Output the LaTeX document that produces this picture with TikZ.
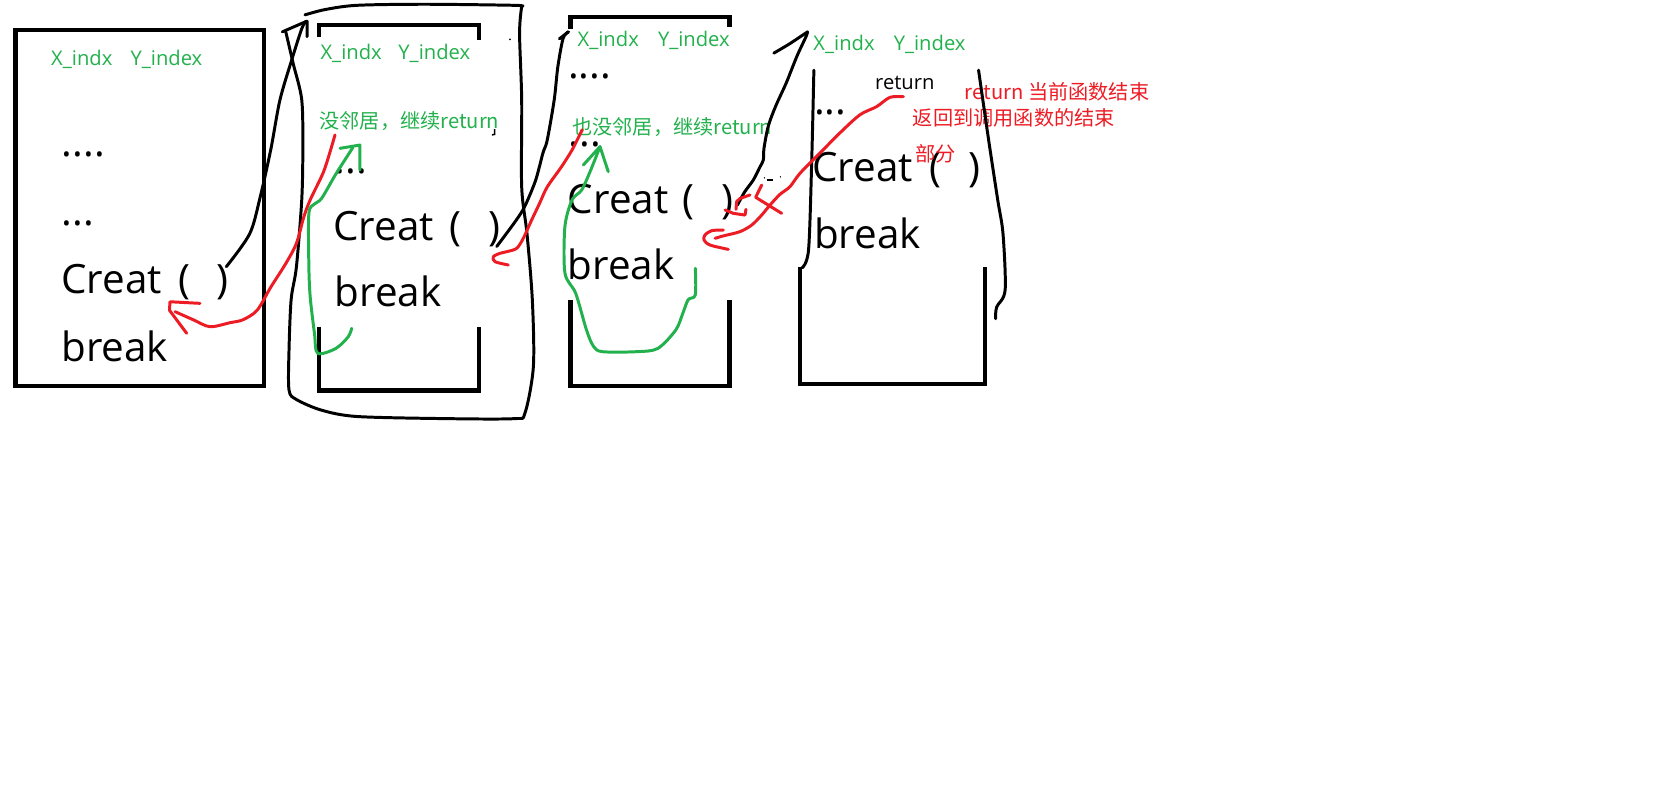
\documentclass[tikz,border=0pt]{standalone}
\usepackage{fontspec}
\setmainfont{Open Sans}
\newfontfamily\cjk{Noto Sans CJK SC}
\definecolor{pgreen}{RGB}{34,177,76}
\definecolor{pred}{RGB}{237,28,36}
\begin{document}
\begin{tikzpicture}[x=1pt,y=-1pt,
  boxline/.style={line width=4pt},
  pen/.style={line width=2.8pt, line cap=round, line join=round},
  big/.style={inner sep=0pt, anchor=base west, font=\fontsize{38}{42}\selectfont},
  lab/.style={inner sep=0pt, anchor=base west, text=pgreen, font=\fontsize{19}{22}\selectfont},
  cjklab/.style={inner sep=0pt, anchor=base west, font=\cjk\fontsize{19}{22}\selectfont},
  blk/.style={inner sep=0pt, anchor=base west, font=\fontsize{19}{22}\selectfont}
]
\fill[white] (0,0) rectangle (1568,755);
\useasboundingbox (0,0) rectangle (1568,755);

% ---------- boxes ----------
\draw[boxline] (14.5,28.5) rectangle (248.5,363.5);
\draw[boxline] (300,35) -- (300,23.5) -- (450.5,23.5) -- (450.5,38);
\draw[boxline] (300,307.5) -- (300,367.5) -- (450.5,367.5) -- (450.5,307.5);
\draw[boxline] (537,27) -- (537,16) -- (686.5,16) -- (686.5,25);
\draw[boxline] (537,282) -- (537,363) -- (686.5,363) -- (686.5,282);
\draw[boxline] (753,251) -- (753,361.5) -- (927,361.5) -- (927,251);

% ---------- box 1 text ----------
\node[lab] (x1) at (48,61.3) {X\_indx};
\node[lab] (y1) at (122.7,61.3) {Y\_index};
\node[big] (d1a) at (58,147.5) {....};
\node[big] (d1b) at (58,212) {...};
\node[big] (c1) at (57.5,276) {Creat};
\node[big] (o1) at (168,276) {(};
\node[big] (p1) at (203.5,276) {)};
\node[big] (b1) at (57.5,340) {break};

% ---------- box 2 text ----------
\node[lab] (x2) at (301.5,56) {X\_indx};
\node[lab] (y2) at (374.8,56) {Y\_index};
\node[cjklab, text=pgreen] (n2) at (300.5,121) {没邻居，继续return};
\node[big] (d2) at (315,163) {...};
\node[big] (c2) at (313.5,226) {Creat};
\node[big] (o2) at (423,226) {(};
\node[big] (p2) at (460,226) {)};
\node[big] (b2) at (315,288.6) {break};

% ---------- box 3 text ----------
\node[lab] (x3) at (543.5,43.4) {X\_indx};
\node[lab] (y3) at (619.1,43.4) {Y\_index};
\node[big] (d3a) at (534.5,74) {....};
\node[cjklab, text=pgreen] (n3) at (538.5,127) {也没邻居，继续return};
\node[big] (d3b) at (535,138) {...};
\node[big] (c3) at (534.3,200.8) {Creat};
\node[big] (o3) at (642.3,200.8) {(};
\node[big] (p3) at (679.3,200.8) {)};
\node[big] (b3) at (534,263.5) {break};

% ---------- box 4 text ----------
\node[lab] (x4) at (765.4,47.6) {X\_indx};
\node[lab] (y4) at (841,47.6) {Y\_index};
\node[blk] (r4) at (823.5,84.5) {return};
\node[big] (d4) at (766,107.5) {...};
\node[big] (c4) at (764.5,171) {Creat};
\node[big] (o4) at (874.2,171) {(};
\node[big] (p4) at (911.2,171) {)};
\node[big] (b4) at (766,233.7) {break};

% ---------- red note ----------
\node[cjklab, text=pred] (t1) at (908,93.5) {return 当前函数结束};
\node[cjklab, text=pred] (t2) at (859,118) {返回到调用函数的结束};
\node[cjklab, text=pred] (t3) at (861,152) {部分};

% ---------- black hand-drawn lines ----------
% loop around box 2
\draw[pen] plot[smooth, tension=0.5] coordinates {(269,30) (276,60) (284,94) (285,140) (284,188) (279,251) (274,282) (272,330) (272,367) (279,376) (302.5,386) (336,392) (420,394) (484,394) (494,389) (502,345) (501,282) (496,220) (491,176) (491,94) (489,31) (491,6)};
\draw[pen] plot[smooth, tension=0.5] coordinates {(491,6) (484,5) (400,4) (336,5) (306,9) (287,14)};
% from box 1 ")" upwards
\draw[pen] plot[smooth, tension=0.5] coordinates {(213,251) (235,220) (245,185) (255,140) (263.5,94) (275,55) (284,27) (288,20)};
\draw[pen] (265.7,30) -- (284,22) -- (289,20) -- (289,34.5);
% from box 2 ")" upwards
\draw[pen] plot[smooth, tension=0.5] coordinates {(467.5,232) (486,207) (494,194) (504,170) (511,144) (515,132) (521.6,94) (525,63) (530,36) (535,30)};
\draw[pen] (526.5,36.5) -- (535,30);
% from box 3 ")" upwards
\draw[pen] plot[smooth, tension=0.5] coordinates {(694,193) (701,180.4) (709,169.4) (715.3,157) (718.4,150.6) (719,140) (723,119) (730,100) (740,78) (750,53) (758.6,34.5) (760,30)};
\draw[pen] plot[smooth, tension=0.5] coordinates {(760,30) (743.5,41) (728.3,50)};
% box 4 hand-drawn sides
\draw[pen] plot[smooth, tension=0.5] coordinates {(766,66) (764,150) (761,235) (755,252)};
\draw[pen] plot[smooth, tension=0.5] coordinates {(921,66) (930.5,132) (939,188) (944,220) (946,273) (938,289) (937,300)};
% tiny marks
\fill (480,37) circle (0.9);
\draw[line width=2pt] (721.5,169.5) -- (727.5,169.5);
\fill (719.5,167.5) circle (0.7);
\fill (734.5,166.5) circle (0.7);
\draw[line width=1.4pt] (465.5,121.5) -- (465.5,126.5) -- (463,127);

% ---------- red arrows ----------
\draw[pen, pred] plot[smooth, tension=0.5] coordinates {(315.3,127) (310,145) (304,163) (292,188) (286,204) (279,229) (269,248) (255,270) (242,292) (228.5,301) (216.5,303.7) (197.6,307.5) (182,301) (164.7,293.3)};
\draw[pen, pred] (188.2,285.5) -- (160,284) -- (159.5,292) -- (175.7,313.7);

\draw[pen, pred] plot[smooth, tension=0.5] coordinates {(548,122) (538.5,141) (528.4,157) (515,176) (508,191) (500.4,207) (492.5,224.3) (486.3,233.7) (476.9,236.9) (470.6,238.4) (464.3,241.6) (465.9,246.3) (478.4,249.4)};

\draw[pen, pred] plot[smooth, tension=0.5] coordinates {(850.2,91) (837.6,91.6) (825,100.4) (809.4,108) (790.6,125) (771.8,144) (753,163) (743.5,175.7) (734,183) (724.7,193) (716.9,202.4) (707.5,211.8) (696.5,218) (680.8,222) (673,224.3)};
\draw[pen, pred] plot[smooth, tension=0.5] coordinates {(680.8,216.5) (669.8,217.1) (663.5,221.2) (662.6,225.9) (668.2,230.6) (685.5,234.7)};
\draw[pen, pred] (716.9,174.1) -- (711.2,185.7) -- (735.7,200.8);
\draw[pen, pred] (705.9,183.5) -- (696.5,186.7) -- (693.3,189.8) -- (692.7,197);
\draw[pen, pred] (682.4,197.6) -- (690.2,200.8) -- (701.2,202.4) -- (702.1,197);

% ---------- green arrows ----------
\draw[pen, pgreen] plot[smooth, tension=0.5] coordinates {(331,309) (327.7,317) (316,328) (299,332.5) (296,314) (292,280) (290.7,251) (290.7,201) (296,192) (302.7,186.7) (316,164) (332,139)};
\draw[pen, pgreen] (320,139.6) -- (338.8,136.5) -- (338.8,160);

\draw[pen, pgreen] plot[smooth, tension=0.5] coordinates {(654.4,252.5) (654.4,277.6) (647.7,282) (642.6,295) (636,310.6) (619,328) (599,331) (567,331) (558.6,326) (552,310.6) (541.8,276) (531.7,257) (531.7,213) (538.5,188) (547.5,178.8) (556,160) (564.7,138)};
\draw[pen, pgreen] (549,155.3) -- (564.7,138) -- (572.5,161.6);
\end{tikzpicture}
\end{document}
